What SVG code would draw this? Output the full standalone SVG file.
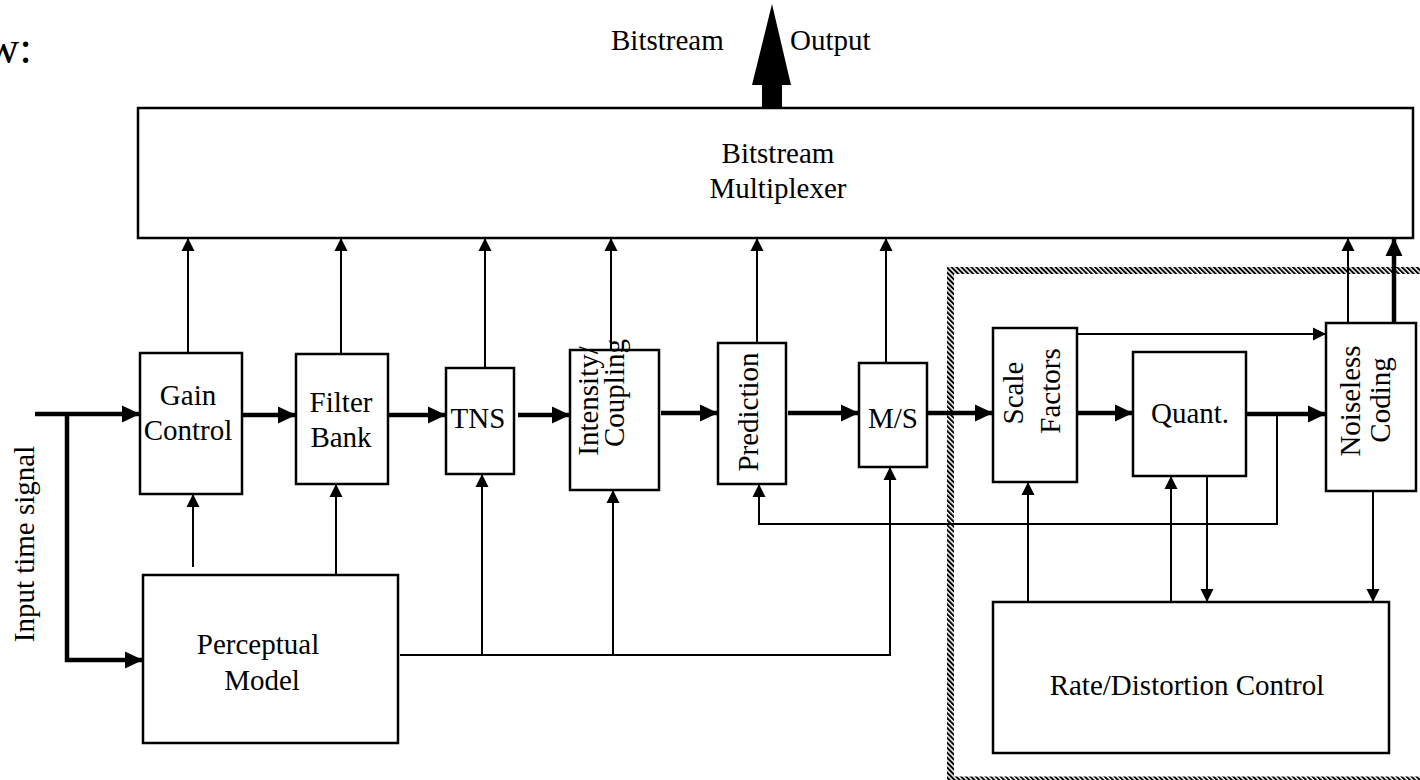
<svg xmlns="http://www.w3.org/2000/svg" width="1420" height="780" viewBox="0 0 1420 780">
<defs>
<style>
.box{fill:#fff;stroke:#000;stroke-width:2.5}
.t{font-family:"Liberation Serif","Times New Roman",serif;font-size:29px;fill:#000}
.m{text-anchor:middle}
.thin{fill:none;stroke:#000;stroke-width:2}
.thick{fill:none;stroke:#000;stroke-width:4.5}
</style>
<marker id="a" markerUnits="userSpaceOnUse" markerWidth="14" markerHeight="14" refX="13" refY="7" orient="auto" viewBox="0 0 14 14"><path d="M0,0.5 L13,7 L0,13.5 z" fill="#000"/></marker>
<marker id="A" markerUnits="userSpaceOnUse" markerWidth="19" markerHeight="18" refX="18" refY="9" orient="auto" viewBox="0 0 19 18"><path d="M0,0.5 L18,9 L0,17.5 z" fill="#000"/></marker>
<pattern id="hatch" patternUnits="userSpaceOnUse" width="3.5" height="3.5" patternTransform="rotate(-45)"><rect width="3.5" height="3.5" fill="#fff"/><rect width="2" height="3.5" fill="#000"/></pattern>
</defs>
<rect width="1420" height="780" fill="#fff"/>

<text class="t" x="-14" y="63" style="font-size:46px">w:</text>

<g id="region">
<rect x="950.5" y="270.5" width="500" height="509.5" fill="none" stroke="url(#hatch)" stroke-width="7"/>
</g>

<g id="output">
<path d="M762,108 L762,85 L752,85 L772,4 L791,85 L782,85 L782,108 z" fill="#000"/>
<text class="t" x="611" y="50">Bitstream</text>
<text class="t" x="790" y="50">Output</text>
</g>

<g id="connectors">
<line class="thin" x1="188" y1="353" x2="188" y2="238" marker-end="url(#a)"/>
<line class="thin" x1="341" y1="354" x2="341" y2="238" marker-end="url(#a)"/>
<line class="thin" x1="485" y1="368" x2="485" y2="238" marker-end="url(#a)"/>
<line class="thin" x1="611" y1="350" x2="611" y2="238" marker-end="url(#a)"/>
<line class="thin" x1="757" y1="343" x2="757" y2="238" marker-end="url(#a)"/>
<line class="thin" x1="886" y1="363" x2="886" y2="238" marker-end="url(#a)"/>
<line class="thin" x1="1348" y1="323" x2="1348" y2="238" marker-end="url(#a)"/>
<line class="thick" x1="1394" y1="323" x2="1394" y2="238" marker-end="url(#A)"/>

<line class="thick" x1="35" y1="414" x2="140" y2="414" marker-end="url(#A)"/>
<polyline class="thick" points="67,414 67,660 143,660" marker-end="url(#A)"/>
<line class="thick" x1="242" y1="415" x2="296" y2="415" marker-end="url(#A)"/>
<line class="thick" x1="388" y1="415" x2="446" y2="415" marker-end="url(#A)"/>
<line class="thick" x1="518" y1="415" x2="570" y2="415" marker-end="url(#A)"/>
<line class="thick" x1="661" y1="413" x2="718" y2="413" marker-end="url(#A)"/>
<line class="thick" x1="788" y1="413" x2="859" y2="413" marker-end="url(#A)"/>
<line class="thick" x1="927" y1="413" x2="993" y2="413" marker-end="url(#A)"/>
<line class="thick" x1="1077" y1="413" x2="1133" y2="413" marker-end="url(#A)"/>
<line class="thick" x1="1246" y1="414" x2="1326" y2="414" marker-end="url(#A)"/>

<line class="thin" x1="193" y1="567" x2="193" y2="494" marker-end="url(#a)"/>
<line class="thin" x1="336" y1="575" x2="336" y2="484" marker-end="url(#a)"/>
<polyline class="thin" points="400,655 890,655 890,467" marker-end="url(#a)"/>
<line class="thin" x1="482" y1="655" x2="482" y2="474" marker-end="url(#a)"/>
<line class="thin" x1="613" y1="655" x2="613" y2="490" marker-end="url(#a)"/>
<polyline class="thin" points="1277,414 1277,524 759,524 759,484" marker-end="url(#a)"/>

<line class="thin" x1="1077" y1="334" x2="1326" y2="334" marker-end="url(#a)"/>
<line class="thin" x1="1028" y1="602" x2="1028" y2="482" marker-end="url(#a)"/>
<line class="thin" x1="1171" y1="602" x2="1171" y2="476" marker-end="url(#a)"/>
<line class="thin" x1="1207" y1="476" x2="1207" y2="602" marker-end="url(#a)"/>
<line class="thin" x1="1373" y1="491" x2="1373" y2="602" marker-end="url(#a)"/>
</g>

<g id="multiplexer">
<rect class="box" x="138" y="108" width="1275" height="130"/>
<text class="t m" x="778" y="163">Bitstream</text>
<text class="t m" x="778" y="198">Multiplexer</text>
</g>

<g id="gain">
<rect class="box" x="140" y="353" width="102" height="141"/>
<text class="t m" x="188" y="405">Gain</text>
<text class="t m" x="188" y="440">Control</text>
</g>

<g id="filterbank">
<rect class="box" x="296" y="354" width="92" height="130"/>
<text class="t m" x="341" y="412">Filter</text>
<text class="t m" x="341" y="447">Bank</text>
</g>

<g id="tns">
<rect class="box" x="446" y="368" width="68" height="106"/>
<text class="t m" x="478" y="428">TNS</text>
</g>

<g id="intensity">
<rect class="box" x="570" y="350" width="89" height="140"/>
<text class="t m" transform="translate(598,401) rotate(-90)">Intensity/</text>
<text class="t m" transform="translate(624,393) rotate(-90)">Coupling</text>
</g>

<g id="prediction">
<rect class="box" x="718" y="343" width="68" height="141"/>
<text class="t m" transform="translate(758,412) rotate(-90)">Prediction</text>
</g>

<g id="ms">
<rect class="box" x="859" y="363" width="68" height="104"/>
<text class="t m" x="893" y="428">M/S</text>
</g>

<g id="perceptual">
<rect class="box" x="143" y="575" width="255" height="168"/>
<text class="t m" x="258" y="654">Perceptual</text>
<text class="t m" x="262" y="690">Model</text>
</g>

<g id="input">
<text class="t m" transform="translate(34,544) rotate(-90)">Input time signal</text>
</g>

<g id="scalefactors">
<rect class="box" x="993" y="328" width="84" height="154"/>
<text class="t m" transform="translate(1023,393) rotate(-90)">Scale</text>
<text class="t m" transform="translate(1060,391) rotate(-90)">Factors</text>
</g>

<g id="quant">
<rect class="box" x="1133" y="352" width="113" height="124"/>
<text class="t m" x="1190" y="423">Quant.</text>
</g>

<g id="noiseless">
<rect class="box" x="1326" y="323" width="90" height="168"/>
<text class="t m" transform="translate(1360,401) rotate(-90)">Noiseless</text>
<text class="t m" transform="translate(1390,400) rotate(-90)">Coding</text>
</g>

<g id="rate">
<rect class="box" x="993" y="602" width="396" height="151"/>
<text class="t m" x="1187" y="695">Rate/Distortion Control</text>
</g>
</svg>
